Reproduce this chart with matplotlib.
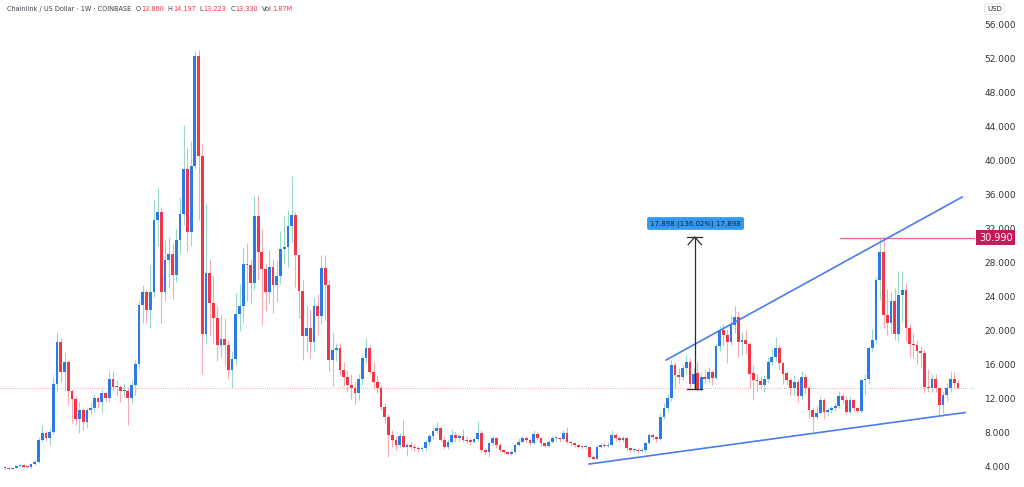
"""
Chainlink / US Dollar weekly candles (COINBASE) with trend channel and measure
"""
import matplotlib
matplotlib.use('Agg')
import matplotlib.pyplot as plt
import matplotlib.transforms as mtransforms
import numpy as np

# weekly candles, oldest first; open of each week = previous close
first_open = 3.85
closes = [
    3.9, 3.8, 3.9, 4.1, 4.25, 4.05, 3.95, 4.3, 4.6, 7.2, 8.0, 7.4, 8.1, 13.8, 18.7, 15.2, 16.4, 12.9, 12.0, 9.7,
    10.7, 9.3, 10.7, 10.9, 12.1, 11.6, 12.7, 12.1, 14.35, 13.45, 13.4, 12.9, 13.0, 12.1, 13.6, 16.1, 23.1,
    24.6, 22.5, 24.6, 33.1, 34.0, 24.6, 28.4, 29.1, 26.6, 30.7, 33.8, 39.1, 31.7, 39.4, 52.3, 40.6, 19.7, 26.8,
    23.3, 21.5, 18.4, 19.1, 18.4, 15.4, 16.7, 22.0, 22.9, 27.9, 27.8, 25.7, 33.5, 29.3, 27.3, 24.6, 27.5, 25.4,
    26.5, 29.6, 29.9, 32.3, 33.6, 28.9, 24.7, 19.4, 20.3, 18.7, 22.9, 21.8, 27.4, 25.4, 16.6, 17.8, 18.0, 15.4,
    14.6, 13.6, 13.25, 12.7, 14.4, 16.8, 18.0, 15.2, 14.0, 13.25,
    11.1, 9.9, 7.76, 7.2, 6.6, 7.6, 6.4, 6.6, 6.4, 6.2, 6.1, 6.2, 7.0, 7.6, 8.2, 8.6, 7.2, 6.3, 7.0, 7.8,
    7.4, 7.6, 7.2, 7.1, 7.0, 7.3, 8.0, 6.0, 5.8, 6.8, 7.4, 6.6, 6.0, 5.8, 5.5, 5.8, 6.6, 7.0, 7.4, 7.2,
    6.8, 7.9, 7.4, 6.8, 6.5, 7.0, 7.4, 7.4, 7.3, 8.0, 7.0, 6.8, 6.6, 6.4, 6.3, 6.3, 5.2, 5.0, 6.4, 6.6,
    6.5, 6.6, 7.8, 7.4, 7.2, 7.4, 6.2, 6.0, 6.0, 5.9, 5.95, 6.8, 7.8, 7.5, 7.3,
    9.9, 10.9, 12.1, 16.0, 14.8, 14.6, 15.6, 16.3, 13.8, 15.0, 13.2, 14.6, 14.4, 15.2, 14.5, 18.2, 20.1, 19.5,
    18.7, 20.7, 21.6, 18.7, 18.9, 18.5, 15.0, 14.2, 14.1, 13.6, 14.3, 16.4, 17.0, 18.0, 16.2, 15.0, 14.2, 13.3,
    14.0, 12.4, 14.6, 13.3, 10.7, 9.9, 10.3, 11.9, 10.5, 10.7, 10.9, 11.2, 12.4, 11.9, 10.5, 11.9, 10.9, 10.6,
    14.2, 14.3, 18.0, 19.0, 26.0, 29.3, 21.9, 20.9, 23.5, 19.7, 24.2, 24.8, 20.3, 18.5, 18.3, 17.6, 17.4, 13.45,
    13.3, 14.3, 13.25, 11.3, 12.5, 13.25, 14.4, 13.86, 13.33,
]
highs = [
    4.1, 4.0, 4.0, 4.2, 4.4, 4.35, 4.15, 4.45, 4.8, 7.5, 9.0, 8.2, 8.6, 14.6, 19.9, 19.2, 17.4, 16.6, 13.2, 12.3,
    11.6, 10.9, 11.0, 11.7, 12.5, 12.4, 13.2, 12.8, 15.3, 15.3, 14.2, 13.6, 13.9, 13.4, 14.2, 16.6, 23.5,
    25.4, 24.8, 27.8, 35.4, 36.8, 34.6, 30.7, 31.0, 30.3, 32.0, 35.8, 44.2, 41.5, 42.3, 52.9, 53.0, 42.0, 35.0,
    28.5, 26.5, 23.0, 22.0, 21.5, 19.0, 17.6, 24.5, 25.5, 29.8, 30.3, 28.5, 35.9, 36.0, 32.0, 28.0, 29.5, 28.5,
    28.4, 31.8, 33.5, 34.2, 38.2, 34.0, 29.0, 26.0, 23.0, 22.5, 24.0, 24.3, 28.9, 28.9, 26.0, 19.9, 18.6, 18.6,
    16.4, 15.4, 15.0, 14.0, 14.9, 17.2, 19.2, 18.4, 16.3, 14.8,
    13.6, 11.5, 10.2, 8.3, 7.6, 8.0, 9.5, 7.0, 6.9, 6.7, 6.5, 6.5, 7.2, 7.9, 8.7, 9.3, 8.8, 7.6, 7.2, 8.5,
    8.1, 7.9, 8.5, 7.6, 7.4, 7.5, 9.4, 8.3, 6.2, 7.0, 7.6, 7.5, 6.8, 6.1, 5.9, 6.0, 6.8, 7.4, 7.7, 7.6,
    7.4, 8.35, 8.1, 7.5, 7.0, 7.2, 7.6, 7.7, 7.5, 8.3, 8.7, 7.2, 6.9, 6.7, 6.5, 6.5, 6.4, 5.4, 6.6, 6.8,
    6.8, 6.9, 8.3, 8.0, 7.6, 7.6, 7.5, 6.4, 6.2, 6.2, 6.2, 7.0, 8.0, 8.0, 7.6,
    10.3, 11.5, 12.6, 16.6, 16.3, 15.6, 16.0, 17.2, 16.8, 15.6, 16.3, 15.2, 15.4, 15.8, 15.4, 18.6, 20.6, 20.8,
    20.2, 21.9, 22.9, 22.2, 19.9, 20.1, 18.7, 16.0, 15.0, 14.7, 14.8, 17.0, 17.9, 19.3, 18.4, 16.4, 15.3, 14.5,
    14.8, 14.4, 15.3, 15.0, 13.5, 11.1, 11.3, 12.4, 12.1, 11.0, 11.2, 11.5, 12.9, 12.7, 12.3, 12.3, 12.0, 11.1,
    14.4, 14.9, 18.2, 20.2, 26.3, 31.0, 30.9, 24.9, 24.6, 25.0, 27.0, 27.1, 25.6, 21.0, 19.8, 18.9, 18.2, 17.8,
    15.5, 15.0, 14.9, 13.4, 12.9, 13.9, 15.3, 15.2, 14.197,
]
lows = [
    3.6, 3.65, 3.75, 3.85, 4.0, 3.95, 3.85, 3.9, 4.2, 4.5, 7.0, 7.1, 6.6, 7.9, 13.0, 14.0, 13.0, 11.3, 9.2, 8.9,
    8.0, 8.3, 8.6, 10.2, 10.5, 11.0, 10.4, 11.8, 11.8, 13.0, 12.3, 11.6, 12.2, 9.0, 11.5, 12.5, 15.5,
    21.0, 20.9, 20.4, 24.0, 30.0, 20.9, 23.5, 25.0, 23.8, 25.8, 29.0, 32.5, 29.4, 30.0, 39.0, 33.0, 15.0, 18.5,
    19.5, 18.5, 16.5, 17.0, 16.0, 14.3, 13.3, 16.0, 20.0, 21.0, 23.5, 23.3, 24.8, 26.0, 20.7, 22.3, 23.2, 22.1,
    23.4, 25.5, 27.9, 27.5, 30.5, 25.2, 21.5, 16.6, 17.5, 16.8, 17.5, 19.5, 20.8, 21.3, 15.2, 13.5, 16.5, 14.8,
    13.5, 12.9, 12.0, 11.4, 11.9, 13.7, 16.1, 14.9, 13.2, 12.7,
    10.7, 9.2, 5.2, 6.3, 6.0, 6.2, 6.3, 5.3, 6.1, 5.9, 5.8, 5.9, 5.9, 6.6, 7.3, 8.0, 6.9, 6.1, 6.1, 6.8,
    7.0, 7.1, 6.9, 6.8, 6.6, 6.8, 7.1, 5.8, 5.5, 5.2, 6.6, 6.2, 5.8, 5.6, 5.4, 5.4, 5.7, 6.5, 6.9, 6.9,
    6.6, 6.7, 7.2, 6.5, 6.3, 6.3, 6.8, 7.1, 7.0, 7.2, 6.8, 6.6, 6.4, 6.2, 6.1, 6.1, 5.0, 4.9, 4.9, 6.2,
    6.3, 6.3, 6.5, 7.1, 6.9, 7.0, 5.9, 5.8, 5.8, 5.7, 5.8, 5.8, 6.7, 7.3, 7.0,
    7.2, 9.6, 10.5, 11.8, 13.2, 13.8, 14.2, 15.0, 13.2, 13.1, 13.0, 12.9, 13.9, 14.0, 13.6, 14.4, 17.6, 18.3,
    16.2, 18.4, 19.8, 16.9, 17.2, 17.3, 13.3, 11.9, 12.9, 13.2, 12.8, 14.0, 16.0, 16.5, 15.5, 13.8, 13.6, 12.3,
    12.5, 11.7, 11.9, 12.6, 9.8, 8.2, 9.6, 10.2, 9.7, 10.1, 10.3, 10.6, 11.0, 11.4, 10.2, 10.2, 10.5, 10.4,
    10.4, 12.5, 13.8, 17.6, 18.6, 23.6, 20.3, 19.5, 19.8, 18.9, 18.8, 21.1, 18.8, 17.0, 16.8, 16.1, 15.6, 12.7,
    12.8, 12.8, 12.8, 10.1, 10.4, 11.8, 12.8, 13.3, 13.223,
]

price_ticks = [4, 8, 12, 16, 20, 24, 28, 32, 36, 40, 44, 48, 52, 56]
last_price = 13.33
ath_price = 30.99
ath_start = 224.3

# drawings on the chart (candle index, price)
upper_trend_x = [177.6, 257.1]
upper_trend_y = [16.59, 35.76]
lower_trend_x = [156.9, 257.9]
lower_trend_y = [4.35, 10.41]
measure_idx = 185.3
measure_lo = 13.158
measure_hi = 31.056
measure_text = '17.898 (136.02%) 17,898'

# header pieces: (text, colour, gap in px before the piece)
header_parts = [
    ('Chainlink / US Dollar · 1W · COINBASE', '#3a3e48', 0),
    ('O', '#3a3e48', 4), ('13.860', '#F23645', 0.5),
    ('H', '#3a3e48', 4), ('14.197', '#F23645', 0.5),
    ('L', '#3a3e48', 4), ('13.223', '#F23645', 0.5),
    ('C', '#3a3e48', 4), ('13.330', '#F23645', 0.5),
    ('Vol', '#3a3e48', 4), ('1.87M', '#F23645', 0.5),
]

UP_BODY = '#2B7AE6'
UP_WICK = '#9AD8CC'
DOWN_BODY = '#F23645'
DOWN_WICK = '#F7A9B3'

closes = np.array(closes)
highs = np.array(highs)
lows = np.array(lows)
opens = np.concatenate([[first_open], closes[:-1]])
n = len(closes)
idx = np.arange(n)
up = closes >= opens

fig = plt.figure(figsize=(10.24, 4.87), dpi=100)
fig.patch.set_facecolor('white')
ax = fig.add_axes([0, 0, 975 / 1024, 1])

# wicks then bodies
ax.vlines(idx, lows, highs, colors=np.where(up, UP_WICK, DOWN_WICK), linewidth=0.8, zorder=2)
body_h = np.maximum(np.abs(closes - opens), 0.12)
body_b = np.minimum(opens, closes)
ax.bar(idx, body_h, bottom=body_b, width=0.74, color=np.where(up, UP_BODY, DOWN_BODY),
       linewidth=0, zorder=3)

# current price dotted line
ax.axhline(last_price, color='#F23645', linestyle=(0, (1, 1.5)), linewidth=0.6, alpha=0.55, zorder=1)

# previous high line + label
ax.plot([ath_start, n + 10], [ath_price, ath_price], color='#EC6F98', linewidth=1.0, zorder=4)
trans = mtransforms.blended_transform_factory(ax.transAxes, ax.transData)
ax.text(1.004, ath_price, '30.990', transform=trans, ha='left', va='center', fontsize=7,
        color='white', clip_on=False, zorder=10,
        bbox=dict(boxstyle='square,pad=0.28', fc='#C8185A', ec='none'))

# trend channel
ax.plot(upper_trend_x, upper_trend_y, color='#4A7BF2', linewidth=1.2, zorder=4)
ax.plot(lower_trend_x, lower_trend_y, color='#4A7BF2', linewidth=1.2, zorder=4)

# price range measure
mc = '#2b2b2b'
ax.plot([measure_idx, measure_idx], [measure_lo, measure_hi], color=mc, linewidth=0.9, zorder=5)
ax.plot([measure_idx - 2, measure_idx + 2], [measure_lo, measure_lo], color=mc, linewidth=0.9, zorder=5)
ax.plot([measure_idx - 2, measure_idx + 2], [measure_hi, measure_hi], color=mc, linewidth=0.9, zorder=5)
ax.plot([measure_idx - 1.8, measure_idx, measure_idx + 1.8],
        [measure_hi - 0.9, measure_hi, measure_hi - 0.9], color=mc, linewidth=0.9, zorder=5)
ax.text(measure_idx + 0.2, 32.65, measure_text, ha='center', va='center', fontsize=5,
        color='#10243f', zorder=6,
        bbox=dict(boxstyle='round,pad=0.45,rounding_size=0.3', fc='#3399EE', ec='none'))

s = 953 / (n - 1)
ax.set_xlim(-5 / s, 970 / s)
ax.set_ylim(4 - 20 / 8.5, 4 + 467 / 8.5)
for sp in ax.spines.values():
    sp.set_visible(False)
ax.set_xticks([])
ax.yaxis.tick_right()
ax.set_yticks(price_ticks)
ax.set_yticklabels([f'{v:.3f}' for v in price_ticks])
ax.tick_params(axis='y', length=0, pad=7, labelsize=6.5, colors='#333333')

# header laid out piece by piece so nothing overlaps
renderer = fig.canvas.get_renderer()
x_px = 7
for txt, col, gap in header_parts:
    x_px += gap
    t = fig.text(x_px / 1024, 1 - 9 / 487, txt, ha='left', va='center', fontsize=4.7, color=col)
    x_px = t.get_window_extent(renderer).x1
fig.text(987 / 1024, 1 - 9 / 487, 'USD', ha='left', va='center', fontsize=5, color='#333333',
         bbox=dict(boxstyle='round,pad=0.35', fc='white', ec='#e3e3e3', linewidth=0.6))

plt.savefig('out.png', dpi=100, facecolor='white')
plt.close()
